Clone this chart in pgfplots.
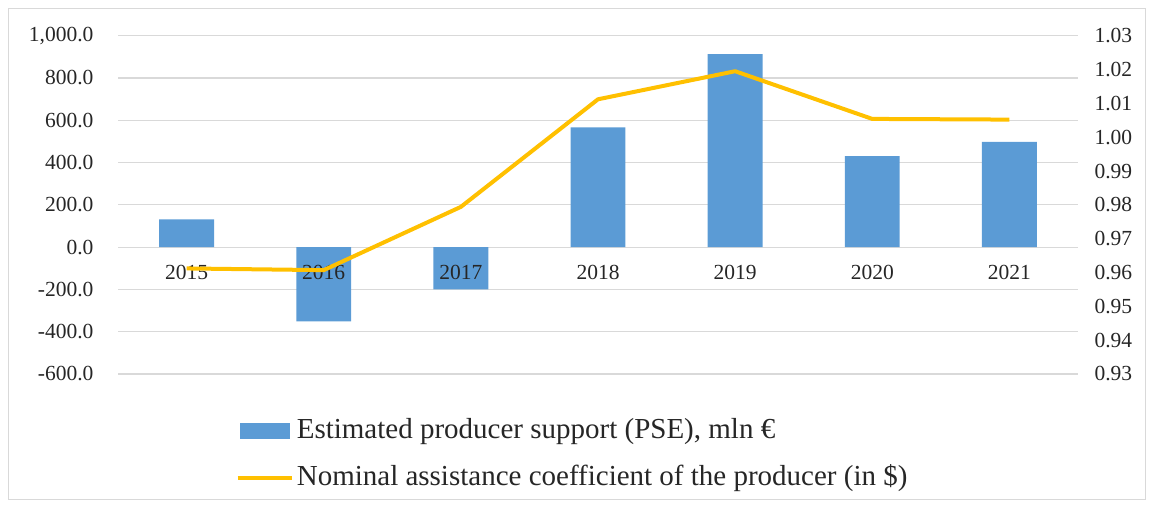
\documentclass[border=0pt]{standalone}
\usepackage{pgfplots}
\pgfplotsset{compat=1.18}
\usepackage{fontspec}
\setmainfont{Liberation Serif}
\definecolor{barblue}{HTML}{5B9BD5}
\definecolor{linegold}{HTML}{FFC000}
\definecolor{gridgray}{HTML}{D9D9D9}
\definecolor{txt}{HTML}{262626}
\begin{document}
\begin{tikzpicture}[x=1pt,y=1pt]
\useasboundingbox (0,0) rectangle (1152,506);
\draw[gridgray, line width=1pt] (8.5,6.5) rectangle (1145,497);
\begin{axis}[
  at={(118pt,132pt)}, anchor=south west,
  scale only axis, width=960pt, height=338.3pt,
  xmin=-0.5, xmax=6.5, ymin=-600, ymax=1000,
  axis x line=none, axis y line*=left,
  y axis line style={draw=none},
  ytick={-600,-400,...,1000},
  major tick length=0pt,
  ymajorgrids, grid style={gridgray, line width=1.2pt},
  tick label style={font=\fontsize{21.5}{25}\selectfont, text=txt},
  /pgf/number format/assume math mode=true,
  /pgf/number format/fixed, /pgf/number format/fixed zerofill,
  /pgf/number format/precision=1, /pgf/number format/1000 sep={,},
  yticklabel style={xshift=-21pt},
  legend style={at={(axis description cs:0.122,-0.238)}, anchor=west,
    draw=none, fill=none, inner sep=0pt, row sep=21pt, column sep=3pt,
    font=\fontsize{29}{34}\selectfont, text=txt,
    nodes={inner sep=0pt, text height=20pt, text depth=6pt, anchor=west}},
  legend cell align=left,
]
\addplot[ybar, bar width=0.4, fill=barblue, draw=none,
  legend image code/.code={\fill[barblue] (0pt,-8pt) rectangle (50pt,8pt);}]
  coordinates {(0,131) (1,-351) (2,-200) (3,566) (4,913) (5,431) (6,498)};
\addlegendentry{Estimated producer support (PSE), mln €}
\addlegendimage{legend image code/.code={\draw[linegold, line width=4.5pt] (-2pt,0pt) -- (52pt,0pt);}}
\addlegendentry{Nominal assistance coefficient of the producer (in \$)}
\end{axis}
\begin{axis}[
  at={(118pt,132pt)}, anchor=south west,
  scale only axis, width=960pt, height=338.3pt,
  xmin=-0.5, xmax=6.5, ymin=0.93, ymax=1.03,
  axis x line*=bottom, axis y line*=right,
  x axis line style={draw=none}, y axis line style={draw=none},
  xtick={0,1,2,3,4,5,6},
  xticklabels={2015,2016,2017,2018,2019,2020,2021},
  xticklabel style={yshift=112pt},
  ytick={0.93,0.94,...,1.031},
  major tick length=0pt,
  tick label style={font=\fontsize{21.5}{25}\selectfont, text=txt},
  /pgf/number format/assume math mode=true,
  /pgf/number format/fixed, /pgf/number format/fixed zerofill,
  /pgf/number format/precision=2,
  yticklabel style={xshift=13pt},
]
\addplot[linegold, line width=4pt, line join=round]
  coordinates {(0,0.9612) (1,0.9607) (2,0.9794) (3,1.0112) (4,1.0195) (5,1.0054) (6,1.0052)};
\end{axis}
\end{tikzpicture}
\end{document}
